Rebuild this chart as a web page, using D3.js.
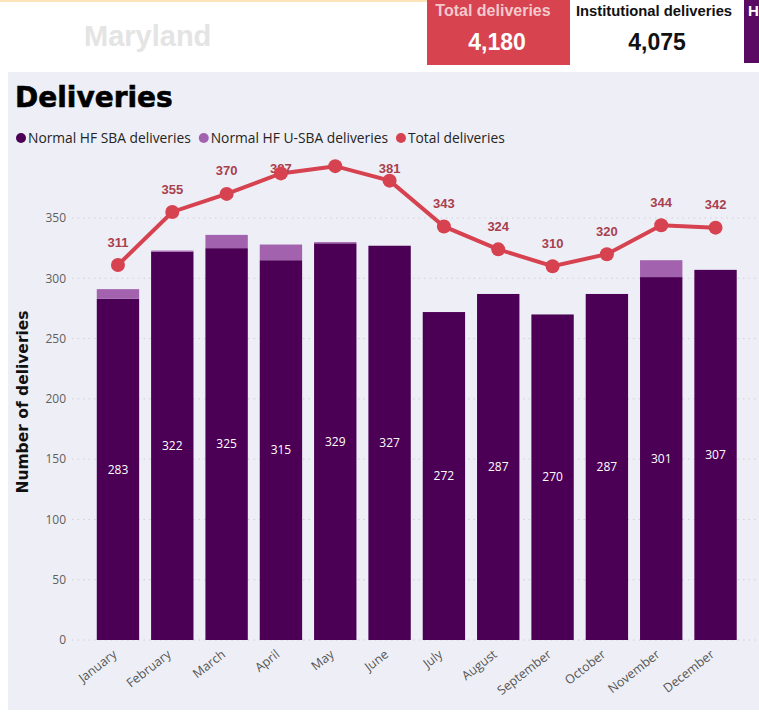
<!DOCTYPE html>
<html><head><meta charset="utf-8">
<script src="https://cdn.jsdelivr.net/npm/d3@7"></script>
<style>
html,body{margin:0;padding:0;background:#fff;overflow:hidden;}
svg{display:block;}
</style></head>
<body>
<svg id="chart" width="759" height="713"></svg>
<script>
const months = ["January","February","March","April","May","June","July","August","September","October","November","December"];
const sbaValues = [283,322,325,315,329,327,272,287,270,287,301,307];
const usbaValues = [8,1,11,13,1,0,0,0,0,0,14,0];
const totalValues = [311,355,370,387,393,381,343,324,310,320,344,342];
const yTicks = [0,50,100,150,200,250,300,350];
const seriesNames = ["Normal HF SBA deliveries","Normal HF U-SBA deliveries","Total deliveries"];
const cardTotalLabel = "Total deliveries", cardTotalValue = 4180;
const cardInstLabel = "Institutional deliveries", cardInstValue = 4075;

const C_SBA = "#4b0055", C_USBA = "#a262ae", C_TOT = "#d6424f", C_LBL = "#a8404e";
const FONT = "'Open Sans','Noto Sans',sans-serif";

const svg = d3.select("#chart");

// header
svg.append("rect").attr("x",0).attr("y",0).attr("width",427).attr("height",2).attr("fill","#fde4b8");
svg.append("text").attr("x",84).attr("y",46).text("Maryland")
  .attr("font-family","'Liberation Sans',Arial,sans-serif").attr("font-weight","bold").attr("font-size",29).attr("fill","#e4e4e4");
svg.append("rect").attr("x",427).attr("y",0).attr("width",143).attr("height",65).attr("fill","#d7434f");
svg.append("text").attr("x",493).attr("y",16).attr("text-anchor","middle").text(cardTotalLabel)
  .attr("font-family","'Liberation Sans Narrow','Liberation Sans',sans-serif").attr("font-weight","bold").attr("font-size",16).attr("fill","#f3c9cd");
svg.append("text").attr("x",497).attr("y",50).attr("text-anchor","middle").text(d3.format(",")(cardTotalValue))
  .attr("font-family","'Liberation Sans',sans-serif").attr("font-weight","bold").attr("font-size",23).attr("fill","#fff");
svg.append("text").attr("x",654).attr("y",16).attr("text-anchor","middle").text(cardInstLabel)
  .attr("font-family","'Liberation Sans Narrow','Liberation Sans',sans-serif").attr("font-weight","bold").attr("font-size",14.8).attr("fill","#111");
svg.append("text").attr("x",657).attr("y",50).attr("text-anchor","middle").text(d3.format(",")(cardInstValue))
  .attr("font-family","'Liberation Sans',sans-serif").attr("font-weight","bold").attr("font-size",23).attr("fill","#111");
svg.append("rect").attr("x",744).attr("y",0).attr("width",20).attr("height",63).attr("fill","#5a0a63");
svg.append("text").attr("x",748).attr("y",16).text("H")
  .attr("font-family","'Liberation Sans',sans-serif").attr("font-weight","bold").attr("font-size",15).attr("fill","#fff");

// panel
svg.append("rect").attr("x",8).attr("y",72).attr("width",760).attr("height",638).attr("fill","#eeeff6");
svg.append("text").attr("x",15).attr("y",107).text("Deliveries")
  .attr("font-family","'DejaVu Sans',sans-serif").attr("font-weight","bold").attr("font-size",28).attr("fill","#000")
  .attr("stroke","#000").attr("stroke-width",0.6);

// legend
const legend = svg.append("g").attr("transform","translate(0,138)");
let lx = 16;
[C_SBA, C_USBA, C_TOT].forEach((c,i)=>{
  legend.append("circle").attr("cx",lx+5).attr("cy",0).attr("r",5).attr("fill",c);
  const t = legend.append("text").attr("x",lx+12).attr("y",0).attr("dy","0.35em").text(seriesNames[i])
    .attr("font-family",FONT).attr("font-size",13.8).attr("fill","#252423");
  lx += 12 + t.node().getComputedTextLength() + 8;
});

// scales
const x = d3.scaleBand().domain(months).range([72, 761.5]).paddingInner(0.22).paddingOuter(0.456);
const y = d3.scaleLinear().domain([0, 380]).range([640, 640 - 380*1.2057]);

// grid
const grid = svg.append("g");
yTicks.forEach(t=>{
  grid.append("line").attr("x1",72).attr("x2",756).attr("y1",y(t)).attr("y2",y(t))
    .attr("stroke","#cfcfd8").attr("stroke-width",1).attr("stroke-dasharray","1.5,4");
});
// y axis labels
const yAxis = d3.axisLeft(y).tickValues(yTicks).tickSize(0).tickPadding(0);
const ya = svg.append("g").attr("transform","translate(66,0)").call(yAxis);
ya.select(".domain").remove();
ya.selectAll("text").attr("font-family",FONT).attr("font-size",12).attr("fill","#605e5c");

svg.append("text").attr("transform","translate(28,402) rotate(-90)").attr("text-anchor","middle")
  .text("Number of deliveries").attr("font-family","'DejaVu Sans',sans-serif").attr("font-weight","bold").attr("font-size",15.5).attr("fill","#111");

// bars
const bars = svg.append("g");
months.forEach((m,i)=>{
  bars.append("rect").attr("x",x(m)).attr("width",x.bandwidth())
    .attr("y",y(sbaValues[i])).attr("height",y(0)-y(sbaValues[i])).attr("fill",C_SBA);
  if (usbaValues[i]>0) {
    bars.append("rect").attr("x",x(m)).attr("width",x.bandwidth())
      .attr("y",y(sbaValues[i]+usbaValues[i])).attr("height",y(sbaValues[i])-y(sbaValues[i]+usbaValues[i])).attr("fill",C_USBA);
  }
  bars.append("text").attr("x",x(m)+x.bandwidth()/2).attr("y",(y(0)+y(sbaValues[i]))/2).attr("dy","0.35em")
    .attr("text-anchor","middle").text(sbaValues[i]).attr("font-family",FONT).attr("font-size",12).attr("fill","#fff");
});

// x axis
const xa = svg.append("g").attr("transform","translate(0,640)").call(d3.axisBottom(x).tickSize(0).tickPadding(0));
xa.select(".domain").remove();
xa.selectAll("text").attr("font-family",FONT).attr("font-size",12.5).attr("fill","#555")
  .attr("text-anchor","end").attr("transform","translate(-5,10) rotate(-38)").attr("dy","0.6em").attr("dx","0");

// line
svg.append("defs").append("clipPath").attr("id","clip").append("rect")
  .attr("x",0).attr("y",159).attr("width",759).attr("height",560);
const lg = svg.append("g").attr("clip-path","url(#clip)");
const cx = m => x(m)+x.bandwidth()/2;
lg.append("path").datum(totalValues).attr("fill","none").attr("stroke",C_TOT).attr("stroke-width",4)
  .attr("d", d3.line().x((d,i)=>cx(months[i])).y(d=>y(d)));
// labels
totalValues.forEach((v,i)=>{
  const py = y(v);
  const ly = Math.max(py-23, 168);
  if (Math.abs(ly-py) < 4) return;
  lg.append("text").attr("x",cx(months[i])).attr("y",ly).attr("dy","0.35em").attr("text-anchor","middle")
    .text(v).attr("font-family","'Liberation Sans Narrow','Liberation Sans',sans-serif").attr("font-weight","bold").attr("font-size",13).attr("fill",C_LBL);
});
totalValues.forEach((v,i)=>{
  lg.append("circle").attr("cx",cx(months[i])).attr("cy",y(v)).attr("r",7).attr("fill",C_TOT);
});
</script>
</body></html>
